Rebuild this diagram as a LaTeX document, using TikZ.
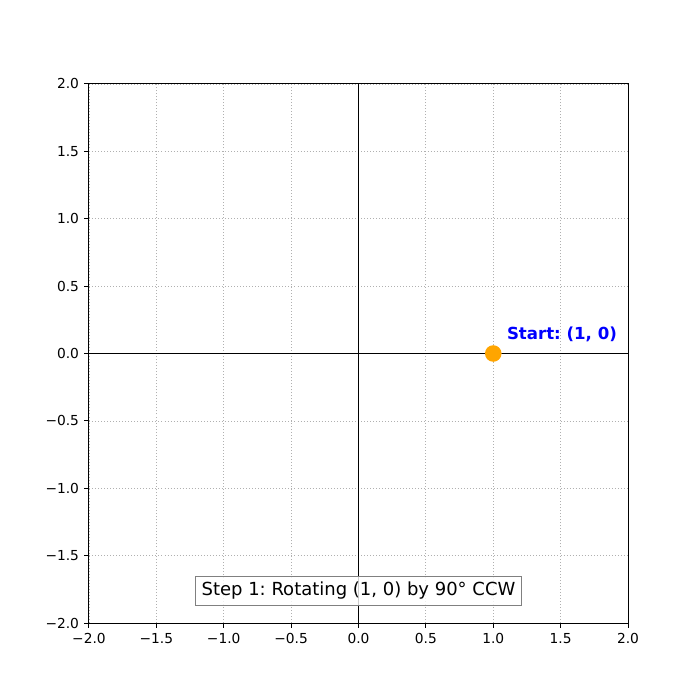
\documentclass[tikz,border=0pt]{standalone}
\usepackage{fontspec}
\setmainfont{DejaVu Sans}
\usetikzlibrary{positioning}
\definecolor{dotorange}{RGB}{255,165,0}
\definecolor{gridgray}{HTML}{B0B0B0}

\tikzset{
	ticklabel/.style={font=\fontsize{9.8}{11}\selectfont, inner sep=0pt},
	gridline/.style={gridgray, line width=0.55pt, dash pattern=on 0.7pt off 1.45pt},
	axline/.style={line width=0.7pt},
}

\begin{document}
\frenchspacing
\begin{tikzpicture}[x=3.369cm, y=3.369cm]
	\useasboundingbox (-2.660, -2.571) rectangle (2.534, 2.623);

	\draw[gridline] (-2, -2) grid[step=0.5] (2, 2);

	\draw[axline] (-2, 0) -- (2, 0);
	\draw[axline] (0, -2) -- (0, 2);

	\draw[axline] (-2, -2) rectangle (2, 2);

	% ticks and tick labels
	\foreach \v/\t in {-2/−2.0, -1.5/−1.5, -1/−1.0, -0.5/−0.5, 0/0.0, 0.5/0.5, 1/1.0, 1.5/1.5, 2/2.0} {
		\draw[axline] (\v, -2) -- ++(0, -3.45pt);
		\node[ticklabel, anchor=north] (xl\v) at ([yshift=-6.9pt]\v, -2) {\t};
		\draw[axline] (-2, \v) -- ++(-3.45pt, 0);
		\node[ticklabel, anchor=east] (yl\v) at ([xshift=-6.9pt]-2, \v) {\t};
	}

	\node[circle, fill=dotorange, minimum size=11.8pt, inner sep=0pt] (start) at (1, 0) {};
	\node[anchor=south west, inner sep=0pt, text=blue, font=\bfseries\fontsize{11.8}{14}\selectfont] (startlabel) at ([yshift=-1.5pt]1.1, 0.1) {Start: (1, 0)};

	\node[draw=gray, fill=white, fill opacity=0.8, text opacity=1, inner xsep=4.2pt, inner ysep=4pt,
		font=\fontsize{12.8}{15}\selectfont] (caption) at (0, -1.762) {Step 1: Rotating (1, 0) by 90° CCW};

\end{tikzpicture}
\end{document}
